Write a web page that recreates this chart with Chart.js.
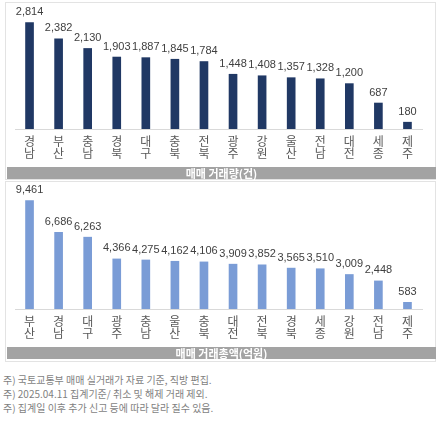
<!DOCTYPE html>
<html>
<head>
<meta charset="utf-8">
<script src="https://cdn.jsdelivr.net/npm/chart.js@4.4.1/dist/chart.umd.min.js"></script>
<style>
  body { margin: 0; background: #fff; width: 443px; height: 427px; position: relative; overflow: hidden; font-family: "Noto Sans CJK KR", sans-serif; }
  .panel { position: absolute; left: 5px; width: 431px; border: 1px solid #e3e3e3; box-sizing: border-box; }
  .cv { position: absolute; left: 6px; width: 430px; }
  .bar-title { position: absolute; left: 7px; width: 429px; height: 12px; background: #a3a3a3; color: #ffffff; font-size: 11px; font-weight: bold; line-height: 12px; text-align: center; z-index: 2; }
  .notes { position: absolute; left: 3px; top: 373px; font-size: 10px; color: #7f7f7f; line-height: 14px; }
</style>
</head>
<body>
<div class="panel" style="top:2px;height:178px"></div>
<div class="panel" style="top:181px;height:181px"></div>
<div class="cv" style="top:3px;height:168px"><canvas id="volChart"></canvas></div>
<div class="bar-title" style="top:167px">매매 거래량(건)</div>
<div class="cv" style="top:183px;height:168px"><canvas id="amtChart"></canvas></div>
<div class="bar-title" style="top:347px">매매 거래총액(억원)</div>
<div class="notes">
  주) 국토교통부 매매 실거래가 자료 기준, 직방 편집.<br>
  주) 2025.04.11 집계기준/ 취소 및 해제 거래 제외.<br>
  주) 집계일 이후 추가 신고 등에 따라 달라 질수 있음.
</div>
<script>
// 매매 거래량(건)
const volRegions = ["경남", "부산", "충남", "경북", "대구", "충북", "전북", "광주", "강원", "울산", "전남", "대전", "세종", "제주"];
const volValues = [2814, 2382, 2130, 1903, 1887, 1845, 1784, 1448, 1408, 1357, 1328, 1200, 687, 180];

// 매매 거래총액(억원)
const amtRegions = ["부산", "경남", "대구", "광주", "충남", "울산", "충북", "대전", "전북", "경북", "세종", "강원", "전남", "제주"];
const amtValues = [9461, 6686, 6263, 4366, 4275, 4162, 4106, 3909, 3852, 3565, 3510, 3009, 2448, 583];

// 막대 위 값 표시
const valueLabels = {
    id: 'valueLabels',
    afterDatasetsDraw(chart) {
        const ctx = chart.ctx;
        ctx.save();
        ctx.font = '11px "Liberation Sans", Arial, sans-serif';
        ctx.fillStyle = '#404040';
        ctx.textAlign = 'center';
        ctx.textBaseline = 'bottom';
        chart.getDatasetMeta(0).data.forEach((bar, i) => {
            const v = chart.data.datasets[0].data[i];
            ctx.fillText(v.toLocaleString('en-US'), bar.x, bar.y - 5);
        });
        ctx.restore();
    }
};

function makeChart(id, regions, values, color, yMax) {
    const ctx = document.getElementById(id).getContext('2d');
    return new Chart(ctx, {
        type: 'bar',
        data: {
            labels: regions.map(r => r.split('')),
            datasets: [{
                data: values,
                backgroundColor: color,
                barThickness: 8
            }]
        },
        options: {
            responsive: true,
            maintainAspectRatio: false,
            animation: false,
            layout: { padding: { top: 5, left: 9, right: 14, bottom: 6 } },
            plugins: {
                legend: { display: false },
                tooltip: { enabled: false }
            },
            scales: {
                x: {
                    grid: { display: false, drawTicks: false },
                    border: { display: true, color: '#d9d9d9' },
                    ticks: {
                        color: '#595959',
                        padding: 6,
                        font: { family: '"Noto Sans CJK KR", sans-serif', size: 12, lineHeight: 1.0 },
                        maxRotation: 0,
                        autoSkip: false
                    }
                },
                y: { display: false, min: 0, max: yMax }
            }
        },
        plugins: [valueLabels]
    });
}

makeChart('volChart', volRegions, volValues, '#203864', 3200);
makeChart('amtChart', amtRegions, amtValues, '#7a9cd6', 10550);
</script>
</body>
</html>
